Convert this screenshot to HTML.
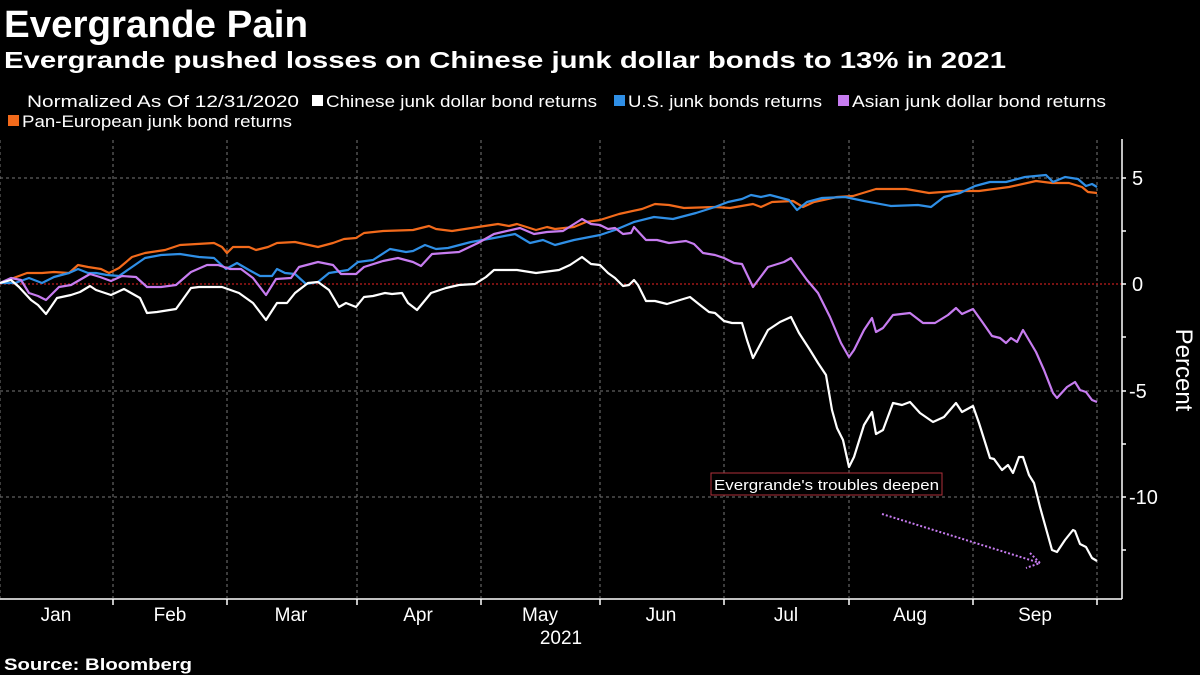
<!DOCTYPE html>
<html><head><meta charset="utf-8"><style>html,body{margin:0;padding:0;background:#000;}svg{display:block}</style></head>
<body>
<svg width="1200" height="675" viewBox="0 0 1200 675" xmlns="http://www.w3.org/2000/svg" font-family="Liberation Sans, sans-serif">
<rect width="1200" height="675" fill="#000"/>
<text x="4" y="37" fill="#fff" font-size="38" font-weight="bold" textLength="304" lengthAdjust="spacingAndGlyphs">Evergrande Pain</text>
<text x="4" y="68" fill="#fff" font-size="23" font-weight="bold" textLength="1002" lengthAdjust="spacingAndGlyphs">Evergrande pushed losses on Chinese junk dollar bonds to 13% in 2021</text>
<g fill="#fff" font-size="17">
<text x="27" y="107" textLength="272" lengthAdjust="spacingAndGlyphs">Normalized As Of 12/31/2020</text>
<rect x="312" y="95" width="11" height="11" fill="#fff"/>
<text x="326" y="107" textLength="271" lengthAdjust="spacingAndGlyphs">Chinese junk dollar bond returns</text>
<rect x="614" y="95" width="11" height="11" fill="#2f8fe6"/>
<text x="628" y="107" textLength="194" lengthAdjust="spacingAndGlyphs">U.S. junk bonds returns</text>
<rect x="838" y="95" width="11" height="11" fill="#c77cf0"/>
<text x="852" y="107" textLength="254" lengthAdjust="spacingAndGlyphs">Asian junk dollar bond returns</text>
<rect x="8" y="115" width="11" height="11" fill="#f26a1b"/>
<text x="22" y="127" textLength="270" lengthAdjust="spacingAndGlyphs">Pan-European junk bond returns</text>
</g>
<g stroke="#777" stroke-width="1" stroke-dasharray="3,3">
<line x1="0" y1="140" x2="0" y2="598"/>
<line x1="113" y1="140" x2="113" y2="598"/><line x1="227" y1="140" x2="227" y2="598"/>
<line x1="357" y1="140" x2="357" y2="598"/><line x1="481" y1="140" x2="481" y2="598"/>
<line x1="600" y1="140" x2="600" y2="598"/><line x1="724" y1="140" x2="724" y2="598"/>
<line x1="849" y1="140" x2="849" y2="598"/><line x1="973" y1="140" x2="973" y2="598"/>
<line x1="1097" y1="140" x2="1097" y2="598"/>
<line x1="0" y1="178" x2="1122" y2="178"/><line x1="0" y1="391" x2="1122" y2="391"/><line x1="0" y1="497" x2="1122" y2="497"/>
</g>
<line x1="0" y1="284" x2="1122" y2="284" stroke="#a01818" stroke-width="1.5" stroke-dasharray="2,2"/>
<g fill="none" stroke-width="2.2" stroke-linejoin="round">
<polyline stroke="#f26a1b" points="0,283 27,273 42,273 54,272 69,273 78,265 88,267 101,269 109,273 119,268 132,257 145,253 165,250 180,245 214,243 222,247 227,253 233,247 249,247 256,250 268,247 277,243 295,242 318,247 333,243 344,239 356,238 364,233 383,231 413,230 429,226 436,229 452,231 478,227 498,224 509,226 517,224 536,230 547,227 555,229 574,227 586,222 600,220 619,214 642,209 655,204 669,205 684,208 715,207 730,208 753,204 761,207 772,202 793,201 803,207 814,202 837,197 853,196 876,189 906,189 929,193 956,191 979,191 1009,187 1036,181 1052,183 1069,183 1082,187 1088,192 1097,193"/>
<polyline stroke="#2f8fe6" points="0,283 15,283 29,278 42,283 54,277 69,273 78,269 88,273 96,273 107,275 119,276 132,267 145,258 161,255 180,254 199,257 214,258 226,269 237,263 249,270 260,276 272,276 277,269 285,273 295,274 306,284 318,282 329,273 348,270 358,262 373,260 390,249 406,252 413,251 425,245 436,249 448,248 471,242 494,238 515,234 530,243 543,240 555,245 574,240 600,235 615,230 634,222 654,217 673,219 696,213 715,207 728,202 742,199 751,195 761,197 770,195 789,200 797,210 807,202 822,198 845,197 864,201 891,206 918,205 931,207 944,197 960,193 975,186 990,182 1006,182 1025,177 1046,175 1053,182 1065,177 1078,179 1086,186 1092,184 1097,187"/>
<polyline stroke="#c77cf0" points="0,283 11,278 21,280 29,293 38,296 46,300 59,287 71,285 90,274 100,277 111,281 122,276 136,277 147,287 161,287 176,285 191,272 207,265 218,265 230,269 241,269 253,278 266,295 276,279 291,278 299,267 318,262 333,265 341,274 356,274 364,267 383,261 398,258 413,262 421,266 432,254 459,252 478,243 494,234 520,228 534,234 547,232 563,231 582,219 591,224 600,225 608,229 615,228 623,234 631,233 634,227 646,240 657,240 669,243 686,241 694,244 703,253 715,255 724,258 734,263 742,264 753,287 768,267 784,262 791,258 807,280 818,293 830,317 841,343 849,357 854,350 864,330 872,318 876,332 883,328 893,315 910,313 923,323 935,323 948,315 956,308 962,314 973,309 983,323 992,336 1000,338 1006,343 1011,338 1017,342 1023,330 1036,352 1044,370 1053,393 1057,398 1067,387 1075,382 1080,390 1086,392 1092,400 1097,402"/>
<polyline stroke="#fff" points="0,283 11,280 19,287 31,300 38,305 46,314 57,298 71,295 80,292 90,286 96,290 111,295 124,289 140,298 147,313 157,312 176,309 191,288 199,287 222,287 239,293 253,303 266,320 277,303 287,303 295,293 308,283 318,282 329,290 339,307 346,303 356,307 364,297 373,296 385,293 392,294 402,293 408,303 417,310 431,293 446,288 459,285 475,284 486,277 494,270 517,270 536,273 559,270 570,265 582,257 591,264 600,265 608,273 615,278 623,286 629,285 634,280 638,285 646,301 655,301 667,304 680,300 690,297 700,305 709,312 715,313 724,321 732,323 742,323 747,340 753,358 768,330 780,322 791,317 799,333 810,350 818,363 826,375 832,410 837,428 843,440 849,467 854,457 864,425 872,412 876,434 883,430 893,403 902,405 910,402 920,413 933,422 944,417 956,403 962,412 973,406 979,423 990,458 994,459 1002,470 1008,465 1013,473 1019,457 1023,457 1029,475 1034,483 1040,507 1052,550 1057,552 1065,540 1073,530 1075,531 1080,544 1086,547 1092,558 1097,561"/>
</g>
<rect x="711" y="473" width="231" height="22" fill="#000" stroke="#b0303a" stroke-width="1"/>
<text x="714" y="490" fill="#fff" font-size="15" textLength="225" lengthAdjust="spacingAndGlyphs">Evergrande's troubles deepen</text>
<g stroke="#c77cf0" stroke-width="2" stroke-dasharray="2,2" fill="none">
<line x1="882" y1="514" x2="1040" y2="563"/>
<polyline points="1030,553 1040,563 1026,568"/>
</g>
<g stroke="#fff" stroke-width="1.5">
<line x1="1122" y1="139" x2="1122" y2="599"/>
<line x1="0" y1="599" x2="1122" y2="599"/>
<line x1="1122" y1="231" x2="1126" y2="231"/><line x1="1122" y1="337" x2="1126" y2="337"/>
<line x1="1122" y1="444" x2="1126" y2="444"/><line x1="1122" y1="550" x2="1126" y2="550"/>
<line x1="1122" y1="178" x2="1126" y2="178"/><line x1="1122" y1="284" x2="1126" y2="284"/>
<line x1="1122" y1="391" x2="1126" y2="391"/><line x1="1122" y1="497" x2="1126" y2="497"/>
<line x1="113" y1="599" x2="113" y2="605"/><line x1="227" y1="599" x2="227" y2="605"/>
<line x1="357" y1="599" x2="357" y2="605"/><line x1="481" y1="599" x2="481" y2="605"/>
<line x1="600" y1="599" x2="600" y2="605"/><line x1="724" y1="599" x2="724" y2="605"/>
<line x1="849" y1="599" x2="849" y2="605"/><line x1="973" y1="599" x2="973" y2="605"/>
<line x1="1097" y1="599" x2="1097" y2="605"/>
</g>
<g fill="#fff" font-size="20">
<text x="1132" y="185">5</text>
<text x="1132" y="291">0</text>
<text x="1129" y="398">-5</text>
<text x="1129" y="504">-10</text>
</g>
<text transform="translate(1176,370) rotate(90)" fill="#fff" font-size="24" text-anchor="middle">Percent</text>
<g fill="#fff" font-size="19" text-anchor="middle">
<text x="56" y="621">Jan</text><text x="170" y="621">Feb</text><text x="291" y="621">Mar</text>
<text x="418" y="621">Apr</text><text x="540" y="621">May</text><text x="661" y="621">Jun</text>
<text x="786" y="621">Jul</text><text x="910" y="621">Aug</text><text x="1035" y="621">Sep</text>
<text x="561" y="644">2021</text>
</g>
<text x="4" y="670" fill="#fff" font-size="17" font-weight="bold" textLength="188" lengthAdjust="spacingAndGlyphs">Source: Bloomberg</text>
</svg>
</body></html>
